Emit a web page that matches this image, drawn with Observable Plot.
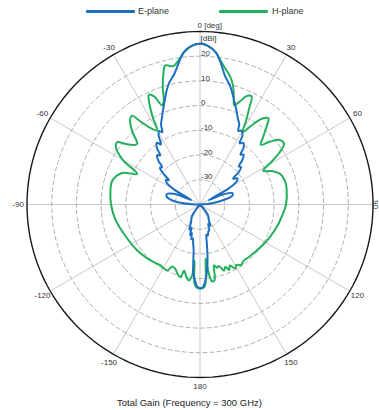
<!DOCTYPE html>
<html><head><meta charset="utf-8">
<script src="https://cdn.jsdelivr.net/npm/d3@7"></script>
<script src="https://cdn.jsdelivr.net/npm/@observablehq/plot@0.6"></script>
<style>
body{margin:0;background:#fff;font-family:"Liberation Sans",Arial,sans-serif;}
#wrap{position:relative;width:379px;height:410px;overflow:hidden;background:#fff}
.item{position:absolute;top:4px;height:14px;line-height:14px;font-size:9px;color:#333}
.sw{position:absolute;top:9.5px;width:49px;height:3px;border-radius:1px}
#chart{position:absolute;top:20px;left:0}
#caption{position:absolute;top:397px;left:0;width:379px;text-align:center;font-size:9.5px;color:#222}
</style></head>
<body>
<div id="wrap">
  <div class="sw" id="swE" style="left:86px;background:#1f6fc0"></div>
  <div class="item" style="left:138px">E-plane</div>
  <div class="sw" id="swH" style="left:219px;background:#22b05a"></div>
  <div class="item" style="left:272px">H-plane</div>
  <div id="chart"></div>
  <div id="caption">Total Gain (Frequency = 300 GHz)</div>
</div>
<script>
// ---- data (angle in degrees, clockwise from top; gain in dBi) ----
const eAngles = [-180,-178,-176,-174.5,-173,-172,-170,-168,-166,-164,-162,-160,-157,-154,-150,-146,-141,-136,-95,-88,-84,-80,-76,-72,-68,-65,-63,-60,-57,-54,-52,-50,-47.5,-45.5,-43.5,-41,-39,-37.5,-35,-33,-31,-29,-27.5,-26,-24,-21,-18,-16,-14,-11,-8.5,-6,-3,0,3,6,8.5,11,14,16,18,21,24,26,27.5,29,31.5,33,35,37.5,39,41,43.5,45.5,47.5,50,52,55,58,61,64,67,71,75,79,84,90,135,140,145,150,154,157,160,163,166,168,170,172,174,176,178,180];
const eGains  = [-6,-6.8,-9.5,-12,-18,-21.5,-24,-26,-25.5,-28,-27,-30,-29,-31.5,-33,-34,-37,-40,-40,-37,-31,-27.5,-26,-26,-28.5,-33,-36,-28,-24,-23,-24,-21,-18,-18.5,-15.5,-13.5,-14.5,-11.5,-9.5,-11,-7.5,-6,-7,-4,-2,1.5,5.5,8.5,11,14,18,22,24.3,25,24.2,21.8,17.5,13,9.8,7.2,4.5,1,-2.2,-3.8,-6.5,-5.8,-7,-10.5,-9.5,-11,-14,-13.2,-15,-18,-17.5,-19.5,-23,-21.5,-22.5,-27,-36,-29,-26,-26.5,-30,-35,-40,-40,-36.5,-34,-33,-30.5,-31.5,-29,-28.5,-27,-27.5,-24,-18,-13,-9,-6.5,-6];

const hAngles = [-180,-178,-176,-174.5,-173.7,-171.6,-169,-166.5,-165,-162,-159,-156,-153.6,-147,-138.5,-126,-111,-100,-90,-82,-75,-68,-64,-60,-56,-53,-51,-48,-46,-43,-40,-37.5,-35.5,-33,-30,-28.5,-26.5,-25,-23,-21,-19.5,-17.6,-16,-14,-11,-8,-6,-3,0,3,6,8,10.5,13,15.5,17.5,19,21,23.5,25.5,27,29,30.5,33,36,38.5,40.5,43,45.5,48,51,54,56.5,59,62,65,70,75,80,90,100,106,115,122,130,138,142,146,149,151,154,156,158,160,163,165,167,169,171,172.5,174,175.5,177,180];
const hGains  = [-6,-6.3,-8,-17,-11.1,-8.9,-10.5,-12.5,-9.5,-10.5,-12.1,-12.5,-10.2,-10.6,-9.8,-8.5,-7,-5.2,-4,-3.4,-3.2,-6,-11.7,-4,1,1.9,-1,-4,-4.7,0,4,5.3,1,-3,-5.4,0,6,9,7.5,3,4,9.8,14,18,17,19.5,22,24.3,25,24.2,21.8,19,16,13.5,10,5.5,2.5,4.5,8,8.5,4,-2,-6,-2,3,4.5,1.5,-2.5,-5.5,-2,1.5,2,-1,-6,-11,-8,-5,-4.3,-4.4,-5.2,-6.8,-7.6,-8.8,-9.7,-10.5,-11,-11.2,-10.4,-11.5,-10.4,-12.5,-11,-12.8,-11.5,-14,-13.5,-14.8,-9,-8.5,-11,-18,-10,-6.5,-6];

const ringValues = [-30,-20,-10,0,10,20];
const outerValue = 30;
const centerValue = -40;
const spokeAngles = [0,30,60,90,120,150,180,-150,-120,-90,-60,-30];
const tickAngles = [30,60,120,150,180,-150,-120,-90,-60,-30];
const tickLabels = ["30","60","120","150","180","-150","-120","-90","-60","-30"];

const blue = "#1f6fc0", green = "#22b05a";

// ---- helpers: polar (angle, gain) -> geographic (lon, lat) for azimuthal projection ----
const lon = a => 180 - a;
const lat = g => 90 - (g - centerValue);
const eData = eAngles.map((a, i) => ({a, g: eGains[i]}));
const hData = hAngles.map((a, i) => ({a, g: hGains[i]}));
const R = outerValue - centerValue;

const font = {fontFamily: "'Liberation Sans', Arial, sans-serif", fontSize: "8px", fill: "#333"};

const chart = Plot.plot({
  width: 379, height: 372,
  marginTop: 11, marginLeft: 26.5, marginRight: 6.5, marginBottom: 15,
  style: {fontFamily: "'Liberation Sans', Arial, sans-serif", background: "transparent", overflow: "visible"},
  projection: {
    type: "azimuthal-equidistant",
    rotate: [0, -90],
    clip: false,
    domain: d3.geoCircle().center([0, 90]).radius(R)()
  },
  marks: [
    Plot.link(spokeAngles, {x1: a => lon(a), y1: 89.999, x2: a => lon(a), y2: lat(outerValue), stroke: "#c9c9c9", strokeWidth: 1}),
    Plot.geo(ringValues, {geometry: g => d3.geoCircle().center([0, 90]).radius(g - centerValue)(), stroke: "#9c9c9c", strokeWidth: 0.8, strokeDasharray: "4,3", fill: "none"}),
    Plot.geo([outerValue], {geometry: g => d3.geoCircle().center([0, 90]).radius(g - centerValue)(), stroke: "#1a1a1a", strokeWidth: 1.4, fill: "none"}),
    Plot.line(hData, {x: d => lon(d.a), y: d => lat(d.g), curve: "catmull-rom", stroke: green, strokeWidth: 2}),
    Plot.line(eData, {x: d => lon(d.a), y: d => lat(d.g), curve: "catmull-rom", stroke: blue, strokeWidth: 2}),
    Plot.text(ringValues, {x: lon(0), y: g => lat(g + 1.2), text: d => String(d), textAnchor: "start", dx: 1, ...font}),
    Plot.text(["[dBi]"], {x: lon(0), y: lat(27.3), text: d => d, textAnchor: "start", dx: 0.5, ...font}),
    Plot.text(["0 [deg]"], {x: lon(0), y: lat(32.3), text: d => d, textAnchor: "start", dx: -2.5, ...font}),
    Plot.text(tickAngles, {x: a => lon(a), y: lat(33.6), text: (a, i) => tickLabels[i], ...font}),
    Plot.text(["90"], {x: lon(90), y: lat(30.9), text: d => d, rotate: 90, ...font})
  ]
});
document.getElementById("chart").appendChild(chart);
</script>
</body></html>
